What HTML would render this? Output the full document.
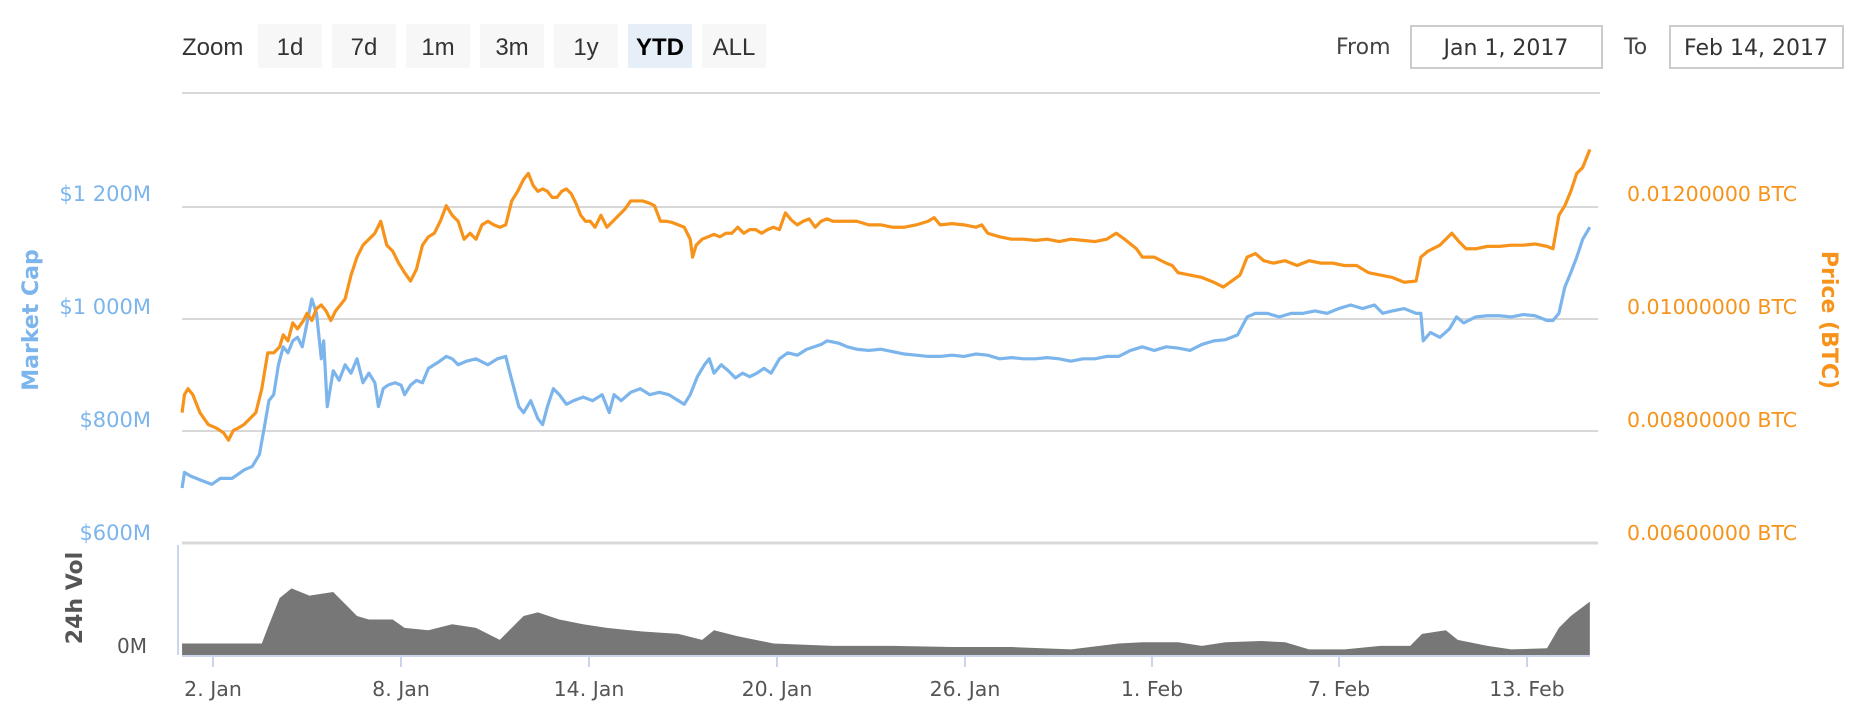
<!DOCTYPE html>
<html><head><meta charset="utf-8"><style>
html,body{margin:0;padding:0;background:#fff;}
svg{display:block;}
text{font-family:"DejaVu Sans",sans-serif;}
.btn{fill:#f7f7f7;}
.bt{font-family:"Liberation Sans",sans-serif;font-size:24px;fill:#333;text-anchor:middle;}
.ly{font-size:21px;fill:#7cb5ec;text-anchor:end;}
.ry{font-size:20.5px;fill:#f7931a;}
.xl{font-size:20.5px;fill:#555;text-anchor:middle;}
</style></head><body>
<svg width="1866" height="720" viewBox="0 0 1866 720" xmlns="http://www.w3.org/2000/svg">
<text x="182" y="55" style="font-family:'Liberation Sans',sans-serif;font-size:24px;fill:#333">Zoom</text>
<rect class="btn" x="258" y="24" width="64" height="44"/><text class="bt" x="290" y="55">1d</text>
<rect class="btn" x="332" y="24" width="64" height="44"/><text class="bt" x="364" y="55">7d</text>
<rect class="btn" x="406" y="24" width="64" height="44"/><text class="bt" x="438" y="55">1m</text>
<rect class="btn" x="480" y="24" width="64" height="44"/><text class="bt" x="512" y="55">3m</text>
<rect class="btn" x="554" y="24" width="64" height="44"/><text class="bt" x="586" y="55">1y</text>
<rect x="628" y="24" width="64" height="44" fill="#e6eef8"/><text class="bt" x="660" y="55" style="font-weight:bold;fill:#000">YTD</text>
<rect class="btn" x="702" y="24" width="64" height="44"/><text class="bt" x="734" y="55">ALL</text>
<text x="1336" y="54" style="font-size:22px;fill:#444">From</text>
<rect x="1411" y="26" width="191" height="42" fill="#fff" stroke="#ccc" stroke-width="2"/>
<text x="1506" y="55" style="font-size:22px;fill:#333;text-anchor:middle">Jan 1, 2017</text>
<text x="1624" y="54" style="font-size:22px;fill:#444">To</text>
<rect x="1670" y="26" width="173" height="42" fill="#fff" stroke="#ccc" stroke-width="2"/>
<text x="1756" y="55" style="font-size:22px;fill:#333;text-anchor:middle">Feb 14, 2017</text>

<g stroke="#d8d8d8" stroke-width="2">
<line x1="182" y1="93" x2="1600" y2="93"/>
<line x1="182" y1="207" x2="1598" y2="207"/>
<line x1="182" y1="319" x2="1598" y2="319"/>
<line x1="182" y1="431" x2="1598" y2="431"/>
<line x1="182" y1="543" x2="1598" y2="543" stroke-width="3"/>
</g>
<text class="ly" x="151" y="201">$1 200M</text>
<text class="ly" x="151" y="314">$1 000M</text>
<text class="ly" x="151" y="427">$800M</text>
<text class="ly" x="151" y="540">$600M</text>
<text class="ry" x="1627" y="201">0.01200000 BTC</text>
<text class="ry" x="1627" y="314">0.01000000 BTC</text>
<text class="ry" x="1627" y="427">0.00800000 BTC</text>
<text class="ry" x="1627" y="540">0.00600000 BTC</text>
<text transform="translate(38,320) rotate(-90)" style="font-size:22px;font-weight:bold;fill:#7cb5ec;text-anchor:middle">Market Cap</text>
<text transform="translate(1822,320) rotate(90)" style="font-size:22px;font-weight:bold;fill:#f7931a;text-anchor:middle">Price (BTC)</text>
<text transform="translate(82,598) rotate(-90)" style="font-size:22px;font-weight:bold;fill:#555;text-anchor:middle">24h Vol</text>
<text x="147" y="653" style="font-size:20px;fill:#555;text-anchor:end">0M</text>
<line x1="178" y1="545" x2="178" y2="655" stroke="#ccd6eb" stroke-width="2"/>

<g transform="scale(1.19,1.196)">
<polygon fill="#777" points="153,548 153,538 220,538 225,525 235,500 245,492 260,498 280,495 290,505 300,515 310,518 330,518 340,525 360,527 380,522 400,525 420,535 430,525 440,515 452,512 470,518 490,522 510,525 540,528 570,530 590,535 600,527 620,532 650,538 700,540 750,540 800,541 850,541 900,543 940,538 960,537 990,537 1010,540 1030,537 1060,536 1080,537 1100,543 1130,543 1160,540 1185,540 1195,530 1215,527 1225,535 1250,540 1270,543 1300,542 1310,525 1320,515 1336,503 1336,548"/>
<polyline fill="none" stroke="#7cb5ec" stroke-width="3.2" vector-effect="non-scaling-stroke" stroke-linejoin="round" points="153,408 155,395 160,398 165,400 170,402 178,405 185,400 195,400 205,393 212,390 218,380 222,358 226,335 230,330 234,305 238,290 242,295 246,285 250,282 254,290 258,270 262,250 266,262 270,300 272,285 275,340 280,310 285,318 290,305 295,312 300,300 305,320 310,312 315,320 318,340 322,325 326,322 332,320 337,322 340,330 345,322 350,318 355,320 360,308 368,303 375,298 380,300 385,305 392,302 400,300 410,305 418,300 425,298 428,310 432,325 436,340 440,345 446,335 452,350 456,355 460,340 465,325 470,330 476,338 482,335 490,332 498,335 506,330 512,345 516,330 522,335 530,328 538,325 546,330 554,328 562,330 570,335 575,338 580,330 586,315 592,305 596,300 600,312 606,305 612,310 618,316 624,312 630,315 636,312 642,308 648,312 655,300 662,295 670,297 678,292 684,290 690,288 695,285 705,287 712,290 720,292 730,293 740,292 750,294 760,296 770,297 780,298 790,298 800,297 810,298 820,296 830,297 840,300 850,299 860,300 870,300 880,299 890,300 900,302 910,300 920,300 930,298 940,298 950,293 960,290 970,293 980,290 990,291 1000,293 1010,288 1020,285 1030,284 1040,280 1048,265 1055,262 1065,262 1075,265 1085,262 1095,262 1105,260 1115,262 1125,258 1135,255 1145,258 1155,255 1162,262 1170,260 1180,258 1190,262 1194,262 1196,285 1202,278 1210,282 1218,275 1224,265 1230,270 1240,265 1250,264 1260,264 1270,265 1280,263 1290,264 1300,268 1305,268 1310,262 1315,240 1320,228 1325,215 1330,200 1336,190"/>
<polyline fill="none" stroke="#f7931a" stroke-width="3.2" vector-effect="non-scaling-stroke" stroke-linejoin="round" points="153,345 155,330 158,325 162,330 168,345 175,355 182,358 188,362 192,368 196,360 200,358 205,355 210,350 215,345 220,325 225,295 230,295 235,290 238,280 242,285 246,270 250,275 255,268 258,262 262,268 266,258 270,255 274,260 278,268 282,260 286,255 290,250 295,230 300,215 305,205 310,200 315,195 320,185 325,205 330,210 335,220 340,228 345,235 350,225 355,205 360,198 365,195 370,185 375,172 380,180 385,185 390,200 395,195 400,200 405,188 410,185 415,188 420,190 425,188 430,168 435,160 440,150 444,145 448,155 452,160 456,158 460,160 464,165 468,165 472,160 476,158 480,162 484,170 488,180 492,185 496,185 500,190 505,180 510,190 515,185 520,180 525,175 530,168 540,168 546,170 550,172 555,185 560,185 565,186 570,188 575,190 580,200 582,215 585,205 590,200 595,198 600,196 605,198 610,195 615,195 620,190 625,195 630,192 635,192 640,195 645,192 650,190 655,192 660,178 665,184 670,188 675,185 680,183 685,190 690,185 695,183 700,185 710,185 720,185 730,188 740,188 750,190 760,190 770,188 780,185 785,182 790,188 800,187 810,188 820,190 825,188 830,195 840,198 850,200 860,200 870,201 880,200 890,202 900,200 910,201 920,202 930,200 938,195 945,200 955,208 960,215 970,215 980,220 985,222 990,228 1000,230 1010,232 1020,236 1028,240 1035,235 1042,230 1048,215 1055,212 1062,218 1070,220 1080,218 1090,222 1100,218 1110,220 1120,220 1130,222 1140,222 1150,228 1160,230 1170,232 1180,236 1190,235 1194,215 1200,210 1210,205 1215,200 1220,195 1226,202 1232,208 1240,208 1250,206 1260,206 1270,205 1280,205 1290,204 1300,206 1305,208 1310,180 1315,172 1320,160 1325,145 1330,140 1336,125"/>
</g>

<line x1="182" y1="656" x2="1590" y2="656" stroke="#ccd6eb" stroke-width="2"/>
<g stroke="#ccd6eb" stroke-width="2">
<line x1="213" y1="656" x2="213" y2="667"/><line x1="401" y1="656" x2="401" y2="667"/>
<line x1="589" y1="656" x2="589" y2="667"/><line x1="777" y1="656" x2="777" y2="667"/>
<line x1="965" y1="656" x2="965" y2="667"/><line x1="1152" y1="656" x2="1152" y2="667"/>
<line x1="1339" y1="656" x2="1339" y2="667"/><line x1="1527" y1="656" x2="1527" y2="667"/>
</g>
<text class="xl" x="213" y="696">2. Jan</text>
<text class="xl" x="401" y="696">8. Jan</text>
<text class="xl" x="589" y="696">14. Jan</text>
<text class="xl" x="777" y="696">20. Jan</text>
<text class="xl" x="965" y="696">26. Jan</text>
<text class="xl" x="1152" y="696">1. Feb</text>
<text class="xl" x="1339" y="696">7. Feb</text>
<text class="xl" x="1527" y="696">13. Feb</text>
</svg>
</body></html>
